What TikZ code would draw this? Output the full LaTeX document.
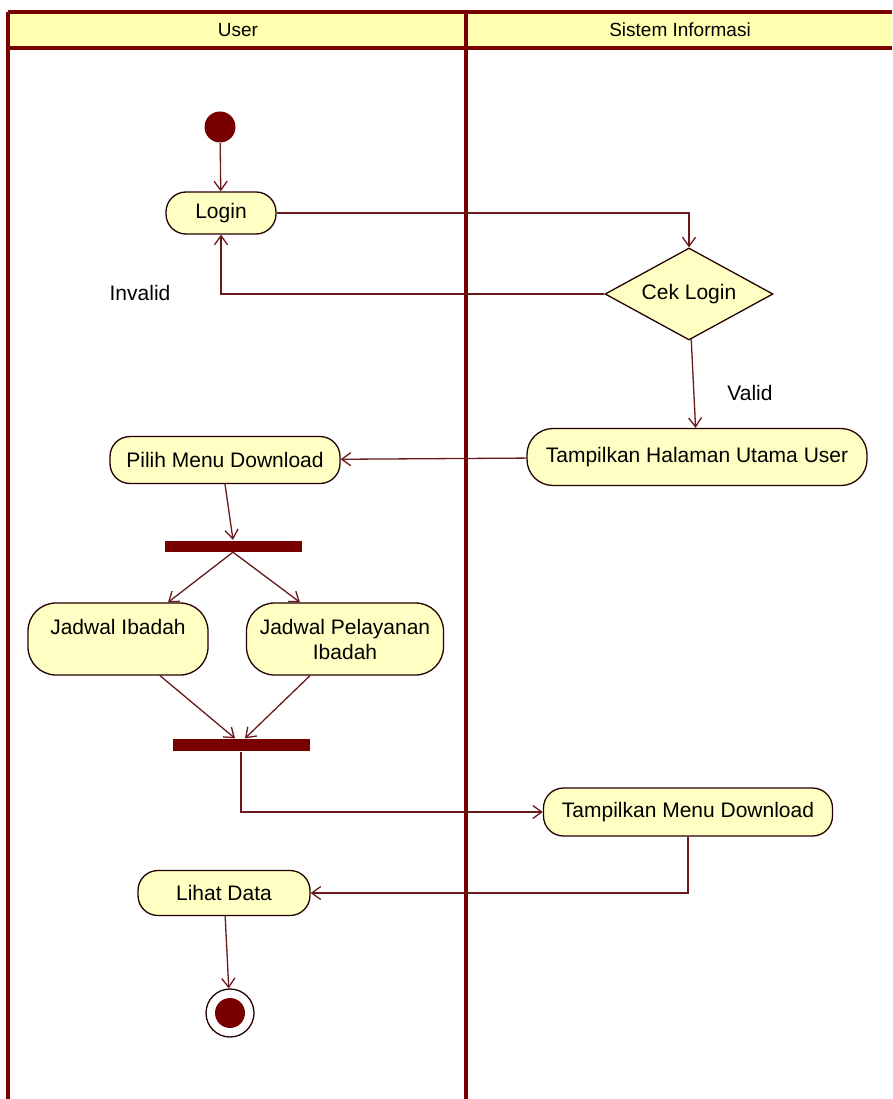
\documentclass[tikz,border=0pt]{standalone}
\usepackage{fontspec}
\setmainfont{Liberation Sans}
\usetikzlibrary{shapes.geometric,arrows.meta,positioning}
\definecolor{umlred}{RGB}{120,0,0}
\definecolor{umlline}{RGB}{105,25,25}
\definecolor{umlfill}{RGB}{255,255,195}

\begin{document}
\begin{tikzpicture}[x=1pt,y=-1pt,->,>={Straight Barb[length=9pt,width=13pt]},draw=umlline,line width=1.3pt,
    font=\fontsize{21}{25}\selectfont]
    \tikzstyle{lane}=[-,draw=umlred,line width=3.5pt]
    \tikzstyle{activity}=[draw=black!70!umlred,fill=umlfill,rounded corners=20pt,inner sep=0pt,minimum height=46pt]
    \tikzstyle{bar}=[fill=umlred,inner sep=0pt,minimum height=11pt]
    \tikzstyle{decision}=[diamond,aspect=1.83,draw=black!70!umlred,fill=umlfill,inner sep=0pt,minimum width=168pt,minimum height=92pt]
    \tikzstyle{guard}=[inner sep=0pt]

    \useasboundingbox (0,0) rectangle (892,1099);

    % Swimlanes
    \fill[umlfill!90!yellow] (8,12) rectangle (892,48);
    \draw[lane] (8,12) -- (892,12);
    \draw[lane] (8,48) -- (892,48);
    \draw[lane] (8,12) -- (8,1099);
    \draw[lane] (466,12) -- (466,1099);
    \node[font=\fontsize{19}{23}\selectfont] (user) at (238,30) {User};
    \node[font=\fontsize{19}{23}\selectfont] (sys) at (680,30) {Sistem Informasi};

    % Start and the login check
    \node[circle,fill=umlred,minimum size=31pt,inner sep=0pt] (start) at (220,127) {};
    \node[activity,minimum width=110pt,minimum height=42pt] (login) at (221,213) {Login};
    \node[decision] (cek) at (689,294) {Cek Login};
    \node[activity,minimum width=340pt,minimum height=57pt,rounded corners=26pt] (thu) at (697,457) {Tampilkan Halaman Utama User};

    % Download menu
    \node[activity,minimum width=230pt,minimum height=47pt] (pmd) at (225,460) {Pilih Menu Download};
    \node[bar,minimum width=137pt] (fork) at (233,546) {};
    \node[activity,minimum width=180pt,minimum height=72pt,rounded corners=28pt,align=center] (ji) at (118,639)
        {Jadwal Ibadah\\ \phantom{Ibadah}};
    \node[activity,minimum width=197pt,minimum height=72pt,rounded corners=28pt,align=center] (jpi) at (345,639)
        {Jadwal Pelayanan\\ Ibadah};
    \node[bar,minimum width=137pt,minimum height=12pt] (join) at (241,745) {};
    \node[activity,minimum width=289pt,minimum height=48pt] (tmd) at (688,812) {Tampilkan Menu Download};
    \node[activity,minimum width=172pt,minimum height=45pt] (lihat) at (224,893) {Lihat Data};

    % End
    \node[circle,draw=black!70!umlred,fill=white,minimum size=48pt,inner sep=0pt] (end) at (230,1013) {};
    \node[circle,fill=umlred,minimum size=30pt,inner sep=0pt] (endin) at (end.center) {};

    % Flows
    \draw (start) -- (login);
    \draw (login) -| (cek);
    \draw (cek) -| (login);
    \node[guard] (invalid) at (140,293) {Invalid};
    \draw (cek) -- (thu);
    \node[guard] (valid) at (750,393) {Valid};
    \draw (thu) -- (pmd);
    \draw (pmd.south) -- (fork.north);
    \draw (fork.south) -- ([xshift=50pt]ji.north);
    \draw (fork.south) -- ([xshift=-45pt]jpi.north);
    \draw ([xshift=42pt]ji.south) -- ([xshift=-6pt]join.north);
    \draw ([xshift=-35pt]jpi.south) -- ([xshift=4pt]join.north);
    \draw (join.south) |- (tmd.west);
    \draw (tmd.south) |- (lihat.east);
    \draw (lihat) -- (end);
\end{tikzpicture}
\end{document}
